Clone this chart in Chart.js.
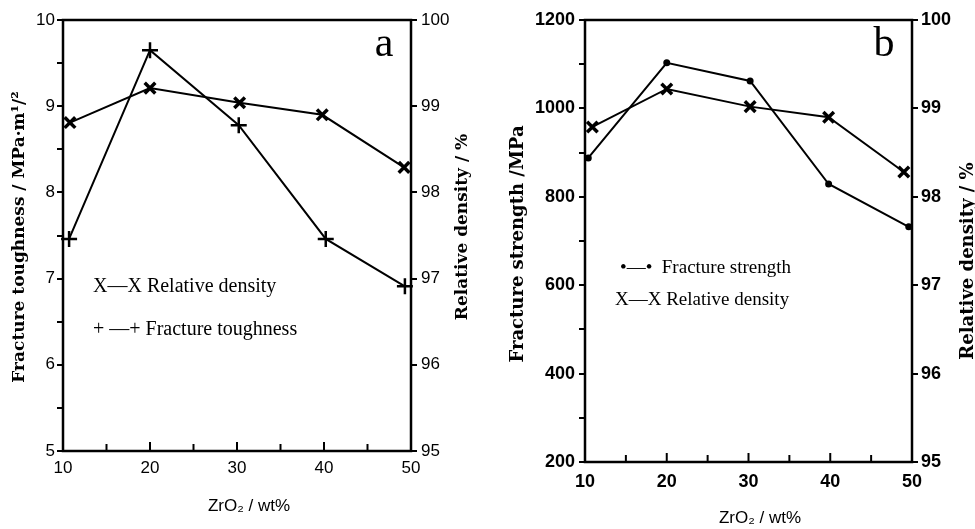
<!DOCTYPE html>
<html>
<head>
<meta charset="utf-8">
<script src="https://cdn.jsdelivr.net/npm/chart.js@4.4.1/dist/chart.umd.min.js"></script>
<style>
  html, body { margin: 0; padding: 0; background: #fff; }
  #wrap { position: relative; width: 975px; height: 529px; overflow: hidden; }
  canvas { position: absolute; top: 0; }
  #chartA { left: 0; }
  #chartB { left: 487px; }
</style>
</head>
<body>
<div id="wrap">
  <canvas id="chartA" width="487" height="529"></canvas>
  <canvas id="chartB" width="488" height="529"></canvas>
</div>
<script>
// --- values ---
// (a) fracture toughness and relative density vs ZrO2 content
const zrA_tough = [10.7, 20, 30.2, 40.2, 49.3];
const toughness = [7.46, 9.65, 8.78, 7.46, 6.91];
const zrA_dens = [10.8, 20, 30.3, 39.8, 49.2];
const densityA = [98.81, 99.21, 99.04, 98.90, 98.29];

// (b) fracture strength and relative density vs ZrO2 content
const zrB_str = [10.4, 20, 30.2, 39.8, 49.6];
const strength = [888, 1103, 1062, 829, 732];
const zrB_dens = [10.9, 20, 30.2, 39.8, 49.0];
const densityB = [98.79, 99.22, 99.02, 98.90, 98.28];

// helper: pair x and y arrays into points
function pts(xs, ys) {
  return xs.map((x, i) => ({ x: x, y: ys[i] }));
}

// box round the plot + inward ticks on the x axis
const framePlugin = {
  id: "frame",
  afterDraw(chart) {
    const { ctx, chartArea: a } = chart;
    const xs = chart.scales.x;
    ctx.save();
    ctx.strokeStyle = "#000";
    ctx.lineWidth = 2.5;
    ctx.strokeRect(a.left, a.top, a.right - a.left, a.bottom - a.top);
    ctx.lineWidth = 2;
    xs.ticks.forEach(t => {
      if (t.value <= xs.min || t.value >= xs.max) return;
      const px = xs.getPixelForValue(t.value);
      const len = t.value % 10 === 0 ? 9 : 7;
      ctx.beginPath();
      ctx.moveTo(px, a.bottom);
      ctx.lineTo(px, a.bottom - len);
      ctx.stroke();
    });
    ctx.restore();
  }
};

// titles, panel letter and hand-made legend
const textPlugin = {
  id: "texts",
  afterDraw(chart, args, opts) {
    const ctx = chart.ctx;
    (opts.items || []).forEach(it => {
      ctx.save();
      ctx.translate(it.x, it.y);
      if (it.rot) ctx.rotate(it.rot);
      ctx.font = it.font;
      ctx.fillStyle = "#000";
      ctx.textAlign = it.align || "center";
      ctx.textBaseline = "middle";
      ctx.fillText(it.text, 0, 0);
      ctx.restore();
    });
  }
};

function xScale(height, pad, font) {
  return {
    type: "linear",
    min: 10,
    max: 50,
    afterFit: s => { s.height = height; },
    border: { display: false },
    grid: { display: false, drawTicks: false },
    ticks: {
      stepSize: 5,
      autoSkip: false,
      maxRotation: 0,
      padding: pad,
      color: "#000",
      font: font,
      callback: v => (v % 10 === 0 ? v : "")
    }
  };
}

function yScale(pos, min, max, step, width, pad, font, labelFn) {
  return {
    type: "linear",
    position: pos,
    min: min,
    max: max,
    afterFit: s => { s.width = width; },
    border: { display: false },
    grid: { drawOnChartArea: false, drawTicks: true, tickLength: 6, color: "#000", lineWidth: 2 },
    ticks: {
      stepSize: step,
      autoSkip: false,
      padding: pad,
      color: "#000",
      font: font,
      callback: labelFn
    }
  };
}

const HALF = -Math.PI / 2;
const fontA = { family: "Liberation Sans", size: 17 };
const fontB = { family: "Liberation Sans", size: 18, weight: "bold" };

// --- panel a ---
new Chart(document.getElementById("chartA"), {
  type: "line",
  data: {
    datasets: [
      {
        label: "Fracture toughness",
        data: pts(zrA_tough, toughness),
        yAxisID: "y",
        borderColor: "#000",
        borderWidth: 2,
        pointStyle: "cross",
        pointRadius: 8,
        pointBorderWidth: 2.5,
        pointBorderColor: "#000",
        tension: 0,
        clip: false
      },
      {
        label: "Relative density",
        data: pts(zrA_dens, densityA),
        yAxisID: "y2",
        borderColor: "#000",
        borderWidth: 2,
        pointStyle: "crossRot",
        pointRadius: 7.5,
        pointBorderWidth: 3.5,
        pointBorderColor: "#000",
        tension: 0,
        clip: false
      }
    ]
  },
  options: {
    responsive: false,
    animation: false,
    events: [],
    layout: { padding: { top: 20 } },
    scales: {
      x: xScale(78, 7, fontA),
      y: yScale("left", 5, 10, 0.5, 63, 2, fontA, v => (Number.isInteger(v) ? v : "")),
      y2: yScale("right", 95, 100, 1, 76, 4, fontA, v => v)
    },
    plugins: {
      legend: { display: false },
      tooltip: { enabled: false },
      texts: {
        items: [
          { text: "Fracture toughness / MPa·m¹/²", x: 20, y: 237, rot: HALF, font: "bold 17px 'DejaVu Serif'" },
          { text: "Relative density / %", x: 463, y: 227, rot: HALF, font: "bold 17px 'DejaVu Serif'" },
          { text: "ZrO₂ / wt%", x: 249, y: 506, font: "17px 'Liberation Sans'" },
          { text: "a", x: 384, y: 45, font: "42px 'Liberation Serif'" },
          { text: "X—X Relative density", x: 93, y: 287, align: "left", font: "20px 'Liberation Serif'" },
          { text: "+ —+ Fracture toughness", x: 93, y: 330, align: "left", font: "20px 'Liberation Serif'" }
        ]
      }
    }
  },
  plugins: [framePlugin, textPlugin]
});

// --- panel b ---
new Chart(document.getElementById("chartB"), {
  type: "line",
  data: {
    datasets: [
      {
        label: "Fracture strength",
        data: pts(zrB_str, strength),
        yAxisID: "y",
        borderColor: "#000",
        borderWidth: 2,
        pointStyle: "circle",
        pointRadius: 2.5,
        pointBackgroundColor: "#000",
        pointBorderColor: "#000",
        tension: 0,
        clip: false
      },
      {
        label: "Relative density",
        data: pts(zrB_dens, densityB),
        yAxisID: "y2",
        borderColor: "#000",
        borderWidth: 2,
        pointStyle: "crossRot",
        pointRadius: 7.5,
        pointBorderWidth: 3.5,
        pointBorderColor: "#000",
        tension: 0,
        clip: false
      }
    ]
  },
  options: {
    responsive: false,
    animation: false,
    events: [],
    layout: { padding: { top: 20 } },
    scales: {
      x: xScale(67, 9, fontB),
      y: yScale("left", 200, 1200, 100, 98, 4, fontB, v => (v % 200 === 0 ? v : "")),
      y2: yScale("right", 95, 100, 1, 63, 3, fontB, v => v)
    },
    plugins: {
      legend: { display: false },
      tooltip: { enabled: false },
      texts: {
        items: [
          { text: "Fracture strength /MPa", x: 31, y: 244, rot: HALF, font: "bold 18px 'DejaVu Serif'" },
          { text: "Relative density / %", x: 481, y: 261, rot: HALF, font: "bold 18px 'DejaVu Serif'" },
          { text: "ZrO₂ / wt%", x: 273, y: 518, font: "17px 'Liberation Sans'" },
          { text: "b", x: 397, y: 45, font: "42px 'Liberation Serif'" },
          { text: "•—•  Fracture strength", x: 133, y: 268, align: "left", font: "19px 'Liberation Serif'" },
          { text: "X—X Relative density", x: 128, y: 300, align: "left", font: "19px 'Liberation Serif'" }
        ]
      }
    }
  },
  plugins: [framePlugin, textPlugin]
});
</script>
</body>
</html>
